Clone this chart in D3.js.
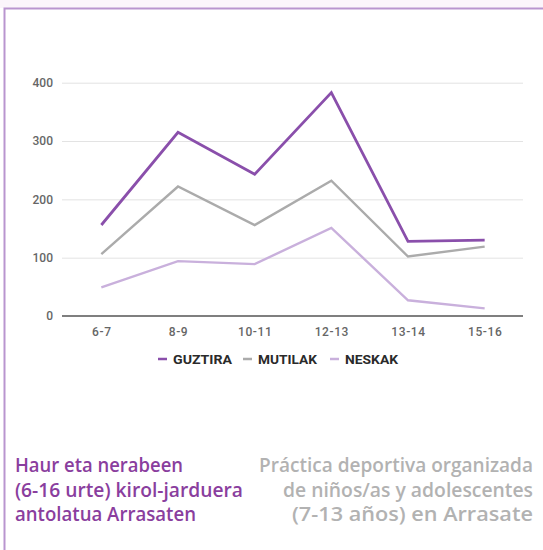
<!DOCTYPE html>
<html><head><meta charset="utf-8">
<script src="https://cdn.jsdelivr.net/npm/d3@7"></script>
<style>html,body{margin:0;padding:0;background:#fff;}svg{display:block;}</style>
</head><body>
<script>
const categories = ["6-7","8-9","10-11","12-13","13-14","15-16"];
const guztira = [156,315,243,383,128,130];
const mutilak = [106,222,156,232,102,119];
const neskak  = [49,94,89,151,27,13];
const yTicks = [0,100,200,300,400];
const seriesNames = ["GUZTIRA","MUTILAK","NESKAK"];
const seriesColors = ["#8a4fab","#ababab","#c9b0dc"];
const titleEU = ["Haur eta nerabeen","(6-16 urte) kirol-jarduera","antolatua Arrasaten"];
const titleES = ["Práctica deportiva organizada","de niños/as y adolescentes","(7-13 años) en Arrasate"];

const W=543,H=550;
const svg=d3.select("body").append("svg").attr("width",W).attr("height",H);
svg.append("rect").attr("width",W).attr("height",8).attr("fill","#fbf5fb");
svg.append("path").attr("d","M4.5,550 V8.5 H543").attr("fill","none").attr("stroke","#b995cf").attr("stroke-width",2);

const x=d3.scalePoint().domain(categories).range([63,523]).padding(0.5);
const y=d3.scaleLinear().domain([0,400]).range([316,82.7]);

const g=svg.append("g");
g.append("g").attr("transform","translate(62,0)")
 .call(d3.axisLeft(y).tickValues(yTicks).tickSize(-461).tickFormat(d3.format("d")))
 .call(a=>{a.select(".domain").remove();
   a.selectAll(".tick line").attr("stroke",d=>d===0?"none":"#e3e3e3").attr("stroke-width",1);
   a.selectAll(".tick text").attr("x",-9).attr("fill","#666").style("font-family","Roboto, sans-serif").style("font-size","12px").style("font-weight","500");});
g.append("line").attr("x1",62).attr("x2",523).attr("y1",y(0)).attr("y2",y(0)).attr("stroke","#555").attr("stroke-width",1.6);
g.append("g").attr("transform",`translate(0,${y(0)})`)
 .call(d3.axisBottom(x).tickSize(0).tickPadding(11))
 .call(a=>{a.select(".domain").remove();
   a.selectAll(".tick text").attr("fill","#666").style("font-family","Roboto, sans-serif").style("font-size","12px").style("font-weight","500").style("letter-spacing","0.6px");});

const line=d3.line().x((d,i)=>x(categories[i])).y(d=>y(d));
const data=[guztira,mutilak,neskak];
const widths=[2.8,2.4,2.4];
[2,1,0].forEach(i=>{
  g.append("path").datum(data[i]).attr("d",line).attr("fill","none")
   .attr("stroke",seriesColors[i]).attr("stroke-width",widths[i]).attr("stroke-linejoin","miter");
});

const legX=[158,243,330];
const legW=[59,59,53];
seriesNames.forEach((n,i)=>{
  svg.append("line").attr("x1",legX[i]).attr("x2",legX[i]+9).attr("y1",359).attr("y2",359)
    .attr("stroke",seriesColors[i]).attr("stroke-width",2.5);
  svg.append("text").attr("x",legX[i]+15).attr("y",364).text(n)
    .attr("fill","#2a2a2a").style("font-family","Roboto, sans-serif").style("font-size","13px").style("font-weight","bold")
    .attr("textLength",legW[i]).attr("lengthAdjust","spacingAndGlyphs");
});

const euW=[168,228,181];
titleEU.forEach((t,i)=>{
  svg.append("text").attr("x",15).attr("y",472+i*24.5).text(t)
   .attr("fill","#8a3e9e").style("font-family","'Open Sans', sans-serif").style("font-size","19px").style("font-weight","600")
   .attr("textLength",euW[i]).attr("lengthAdjust","spacingAndGlyphs");
});
const esW=[274,250,241];
titleES.forEach((t,i)=>{
  svg.append("text").attr("x",533).attr("y",472+i*24.5).attr("text-anchor","end").text(t)
   .attr("fill","#b2b2b2").style("font-family","'Open Sans', sans-serif").style("font-size","19px").style("font-weight","600")
   .attr("textLength",esW[i]).attr("lengthAdjust","spacingAndGlyphs");
});
</script>
</body></html>
